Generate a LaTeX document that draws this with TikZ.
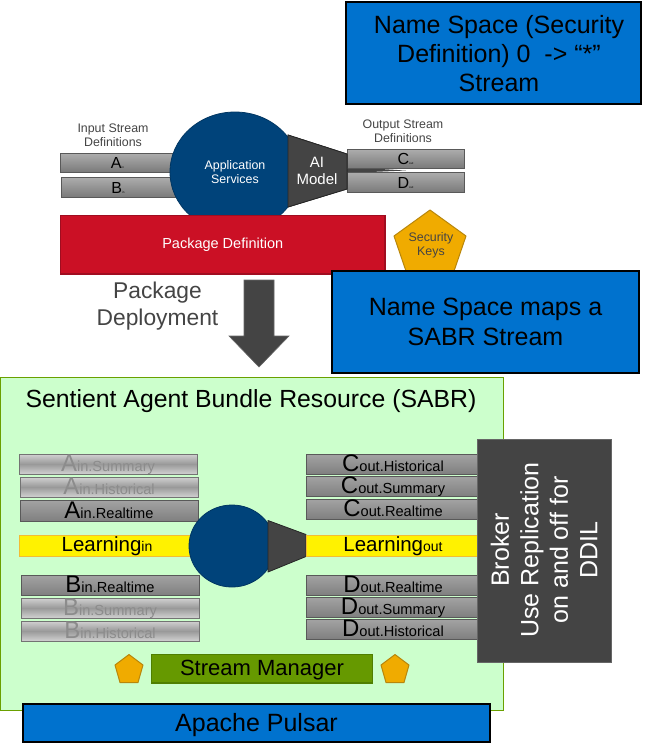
\documentclass[tikz,border=0pt]{standalone}
\usepackage{fontspec}
\setmainfont{Liberation Sans}
\usetikzlibrary{shapes.geometric}
\definecolor{blubox}{HTML}{0072CE}
\definecolor{navy}{HTML}{00437A}
\definecolor{darkg}{HTML}{444444}
\definecolor{redbox}{HTML}{CB1025}
\definecolor{redline}{HTML}{A00D20}
\definecolor{gold}{HTML}{F0AB00}
\definecolor{goldline}{HTML}{B8860B}
\definecolor{pale}{HTML}{CCFFCC}
\definecolor{paleline}{HTML}{6AA000}
\definecolor{mgr}{HTML}{669900}
\definecolor{mgrline}{HTML}{4F7F00}
\definecolor{fadedtxt}{HTML}{8C8C8C}
\newcommand{\fs}[1]{\fontsize{#1pt}{#1pt}\selectfont}
\newcommand{\bx}[7]{% name, x1,y1,x2,y2, style, text
  \pgfmathsetmacro{\bw}{#4-#2}\pgfmathsetmacro{\bh}{#5-#3}
  \pgfmathsetmacro{\bcx}{(#2+#4)/2}\pgfmathsetmacro{\bcy}{(#3+#5)/2}
  \node[boxbase,#6,minimum width=\bw pt,minimum height=\bh pt] (#1) at (\bcx,\bcy) {#7};}
\newcommand{\bartxt}[2]{{\fs{24}#1}{\fs{14.6}#2}}
\newcommand{\smalltxt}[2]{{\fs{16}#1}{\fs{3}#2}}
\tikzset{
  x=1pt,y=-1pt,
  boxbase/.style={inner sep=0pt,outer sep=0pt,rectangle,align=center},
  bluebox/.style={fill=blubox,draw=black,line width=2pt,text=black},
  livebar/.style={draw=black!65,line width=.8pt,top color=black!36,bottom color=black!50,text=black,text height=17.5pt,text depth=2.5pt},
  fadebar/.style={draw=black!55,line width=.8pt,top color=black!18,bottom color=black!18,middle color=black!40,text=fadedtxt,text height=17.5pt,text depth=2.5pt},
  topbar/.style={draw=black!65,line width=.8pt,top color=black!32,bottom color=black!52,text=black,text height=15.5pt,text depth=3.5pt},
  yellowbar/.style={fill=yellow,draw=gold!80,line width=.8pt,text=black,text height=16pt,text depth=5pt},
  blob/.style={ellipse,fill=navy,draw=navy!80!black,line width=.8pt,inner sep=0pt},
  funnel/.style={fill=darkg,draw=black!85,line width=.8pt,line join=round},
  penta/.style={fill=gold,draw=goldline,line width=1pt,line join=round},
  captxt/.style={text=darkg,align=center,inner sep=0pt}
}
\begin{document}
\begin{tikzpicture}
\useasboundingbox (0,0) rectangle (653,753);
% top group
\node[captxt,font=\fs{12.4}] (instream) at (113,135.5) {Input Stream\\[2pt]Definitions};
\node[captxt,font=\fs{12.4}] (outstream) at (403,131) {Output Stream\\[2pt]Definitions};
\bx{abar}{60}{153}{175}{172}{topbar}{\smalltxt{A}{in}}
\bx{bbar}{61}{177}{175}{197}{topbar}{\smalltxt{B}{in}}
\fill[darkg] (347,167) -- (406,170.5) -- (347,173) -- cycle;
\bx{cbar}{347}{149}{464}{168}{topbar}{\smalltxt{C}{out}}
\bx{dbar}{347}{172}{464}{192}{topbar}{\smalltxt{D}{out}}
\draw[funnel] (288,135) -- (347,154) -- (347,189) -- (288,207) -- cycle;
\node[blob,minimum width=130pt,minimum height=120pt,text=white,font=\fs{12.4},align=center] (appsvc) at (235,172) {Application\\[2pt]Services};
\draw[funnel] (288,135) -- (347,154) -- (347,189) -- (288,207) -- cycle;
\node[text=white,font=\fs{15},align=center,inner sep=0pt] (aimodel) at (317,171) {AI\\[2.5pt]Model};
\bx{pkg}{60.5}{215.5}{385}{274}{fill=redbox,draw=redline,line width=1.5pt,text=white,font=\fs{14.5}}{Package Definition}
\draw[penta] (430,210) -- (466,236) -- (453,274) -- (407,274) -- (394,236) -- cycle;
\node[text=darkg,font=\fs{12.4},align=center,inner sep=0pt] (keys) at (431,245) {Security\\[2pt]Keys};
\bx{ns0}{346}{2}{641}{104}{bluebox}{}
\node[font=\fs{25},align=center,inner sep=0pt,text=black] (ns0txt) at (499,54) {Name Space (Security\\[4pt]Definition) 0\ \ -> “*”\\[4pt]Stream};
\bx{ns1}{332}{271}{639}{373}{bluebox,font=\fs{25}}{Name Space maps a\\[5pt]SABR Stream}
\node[captxt,font=\fs{22.8}] (deploy) at (157.5,306) {Package\\[5pt]Deployment};
\fill[darkg,draw=black!60,line width=.6pt] (244,280) -- (274,280) -- (274,336) -- (289,336) -- (259,367) -- (229,336) -- (244,336) -- cycle;
% SABR
\bx{sabr}{0.5}{377.5}{503}{710}{fill=pale,draw=paleline,line width=1pt}{}
\node[font=\fs{24.8},text=black,inner sep=0pt] (title) at (251,401) {Sentient Agent Bundle Resource (SABR)};
\bx{ainS}{19}{454}{197}{474}{fadebar}{\bartxt{A}{in.Summary}}
\bx{ainH}{20}{477}{198}{497}{fadebar}{\bartxt{A}{in.Historical}}
\bx{ainR}{20}{500}{198}{521}{livebar}{\bartxt{A}{in.Realtime}}
\bx{binR}{21}{575}{199}{595}{livebar}{\bartxt{B}{in.Realtime}}
\bx{binS}{21}{598}{199}{618}{fadebar}{\bartxt{B}{in.Summary}}
\bx{binH}{21}{621}{199}{641}{fadebar}{\bartxt{B}{in.Historical}}
\bx{coutH}{306}{454}{480}{474}{livebar}{\bartxt{C}{out.Historical}}
\bx{coutS}{306}{476}{480}{496}{livebar}{\bartxt{C}{out.Summary}}
\bx{coutR}{306}{499}{480}{519}{livebar}{\bartxt{C}{out.Realtime}}
\bx{doutR}{306}{575}{480}{595}{livebar}{\bartxt{D}{out.Realtime}}
\bx{doutS}{306}{597}{480}{617}{livebar}{\bartxt{D}{out.Summary}}
\bx{doutH}{306}{619}{480}{639}{livebar}{\bartxt{D}{out.Historical}}
\bx{lin}{19}{535}{195}{556}{yellowbar}{{\fs{20.5}Learning}{\fs{14}in}}
\node[blob,minimum width=86pt,minimum height=82pt] (core) at (232,546) {};
\draw[funnel] (268,520.5) -- (306,534.5) -- (306,556.5) -- (268,572) -- cycle;
\bx{lout}{306}{535}{480}{556}{yellowbar}{{\fs{20.5}Learning}{\fs{14}out}}
\bx{broker}{477.5}{439}{611}{662}{fill=darkg,draw=black!60,line width=1pt}{}
\node[rotate=90,text=white,font=\fs{25},align=center,inner sep=0pt] (brokertxt) at (544,550) {Broker\\[4.5pt]Use Replication\\[4.5pt]on and off for\\[4.5pt]DDIL};
\bx{mgrbox}{151.5}{654.5}{372.5}{683}{fill=mgr,draw=mgrline,line width=1.2pt,text=black,font=\fs{22},text height=21pt,text depth=7.5pt}{Stream Manager}
\draw[penta] (129,654.5) -- (143,665) -- (138,682.5) -- (120,682.5) -- (115,665) -- cycle;
\draw[penta] (395,654.5) -- (409,665) -- (404,682.5) -- (386,682.5) -- (381,665) -- cycle;
\bx{pulsar}{23}{704}{490}{742}{bluebox,font=\fs{25},text height=27.7pt,text depth=10.3pt}{Apache Pulsar}
\end{tikzpicture}
\end{document}
